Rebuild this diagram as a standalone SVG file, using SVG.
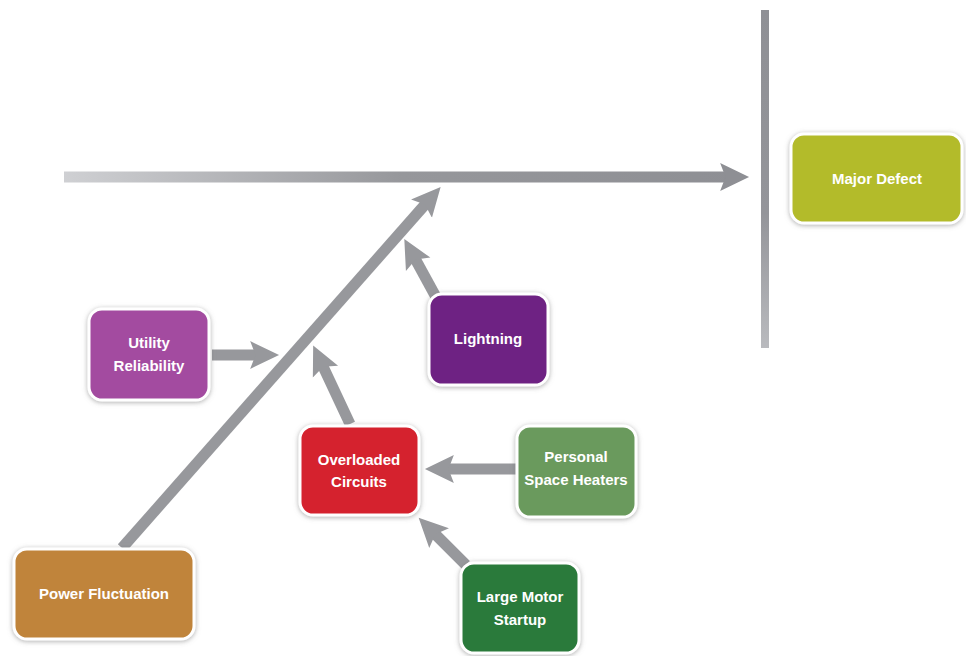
<svg xmlns="http://www.w3.org/2000/svg" width="966" height="656" viewBox="0 0 966 656">
<defs>
<style>
.box{stroke:#ffffff;stroke-width:3;filter:url(#sh)}
.lbl{font-family:"Liberation Sans",Arial,sans-serif;font-weight:bold;font-size:15px;fill:#ffffff;text-anchor:middle}
.arr{stroke:#97989c;stroke-width:11;fill:none;marker-end:url(#ah)}
</style>
<filter id="sh" x="-20%" y="-20%" width="140%" height="140%">
<feDropShadow dx="0" dy="1" stdDeviation="2.5" flood-color="#777" flood-opacity="0.6"/>
</filter>
<marker id="ah" markerUnits="userSpaceOnUse" markerWidth="30" markerHeight="30" viewBox="0 0 28 28" refX="12" refY="14" orient="auto">
<path d="M0,1 L27,14 L0,27 L5,14 z" fill="#97989c"/>
</marker>
<marker id="ahm" markerUnits="userSpaceOnUse" markerWidth="30" markerHeight="30" viewBox="0 0 28 28" refX="12" refY="14" orient="auto">
<path d="M0,1 L27,14 L0,27 L5,14 z" fill="#8e8f94"/>
</marker>
<linearGradient id="gh" gradientUnits="userSpaceOnUse" x1="64" y1="0" x2="740" y2="0">
<stop offset="0" stop-color="#cfd0d3"/>
<stop offset="0.5" stop-color="#96979b"/>
<stop offset="1" stop-color="#8e8f94"/>
</linearGradient>
<linearGradient id="gv" gradientUnits="userSpaceOnUse" x1="0" y1="10" x2="0" y2="348">
<stop offset="0" stop-color="#8f9095"/>
<stop offset="0.6" stop-color="#94959a"/>
<stop offset="1" stop-color="#b9babe"/>
</linearGradient>
</defs>
<rect width="966" height="656" fill="#ffffff"/>
<g id="connectors">
<line x1="64" y1="177" x2="733" y2="177" stroke="url(#gh)" stroke-width="11" marker-end="url(#ahm)"/>
<rect x="761" y="10" width="8" height="338" fill="url(#gv)"/>
<line class="arr" x1="122" y1="548" x2="430" y2="199" stroke-width="10"/>
<line class="arr" x1="212" y1="355" x2="263" y2="355"/>
<line class="arr" x1="436" y1="297" x2="412" y2="253"/>
<line class="arr" x1="350" y1="424" x2="320" y2="360"/>
<line class="arr" x1="516" y1="469" x2="441" y2="469"/>
<line class="arr" x1="466" y1="565" x2="430" y2="529"/>
</g>
<g id="major-defect"><rect class="box" x="791" y="134" width="171" height="89" rx="13" fill="#b3bb2b"/><text class="lbl" x="877" y="184">Major Defect</text></g>
<g id="utility-reliability"><rect class="box" x="89" y="309" width="120" height="91" rx="13" fill="#a34ca0"/><text class="lbl" x="149" y="348">Utility</text><text class="lbl" x="149" y="371">Reliability</text></g>
<g id="lightning"><rect class="box" x="429" y="294" width="119" height="91" rx="13" fill="#6e2383"/><text class="lbl" x="488" y="344">Lightning</text></g>
<g id="overloaded-circuits"><rect class="box" x="300" y="426" width="119" height="89" rx="13" fill="#d5202e"/><text class="lbl" x="359" y="465">Overloaded</text><text class="lbl" x="359" y="487">Circuits</text></g>
<g id="personal-space-heaters"><rect class="box" x="517" y="426" width="119" height="91" rx="13" fill="#6b9a5d"/><text class="lbl" x="576" y="462">Personal</text><text class="lbl" x="576" y="485">Space Heaters</text></g>
<g id="large-motor-startup"><rect class="box" x="461" y="563" width="118" height="90" rx="13" fill="#2a7a3b"/><text class="lbl" x="520" y="602">Large Motor</text><text class="lbl" x="520" y="625">Startup</text></g>
<g id="power-fluctuation"><rect class="box" x="14" y="549" width="180" height="90" rx="13" fill="#c0843a"/><text class="lbl" x="104" y="599">Power Fluctuation</text></g>
</svg>
